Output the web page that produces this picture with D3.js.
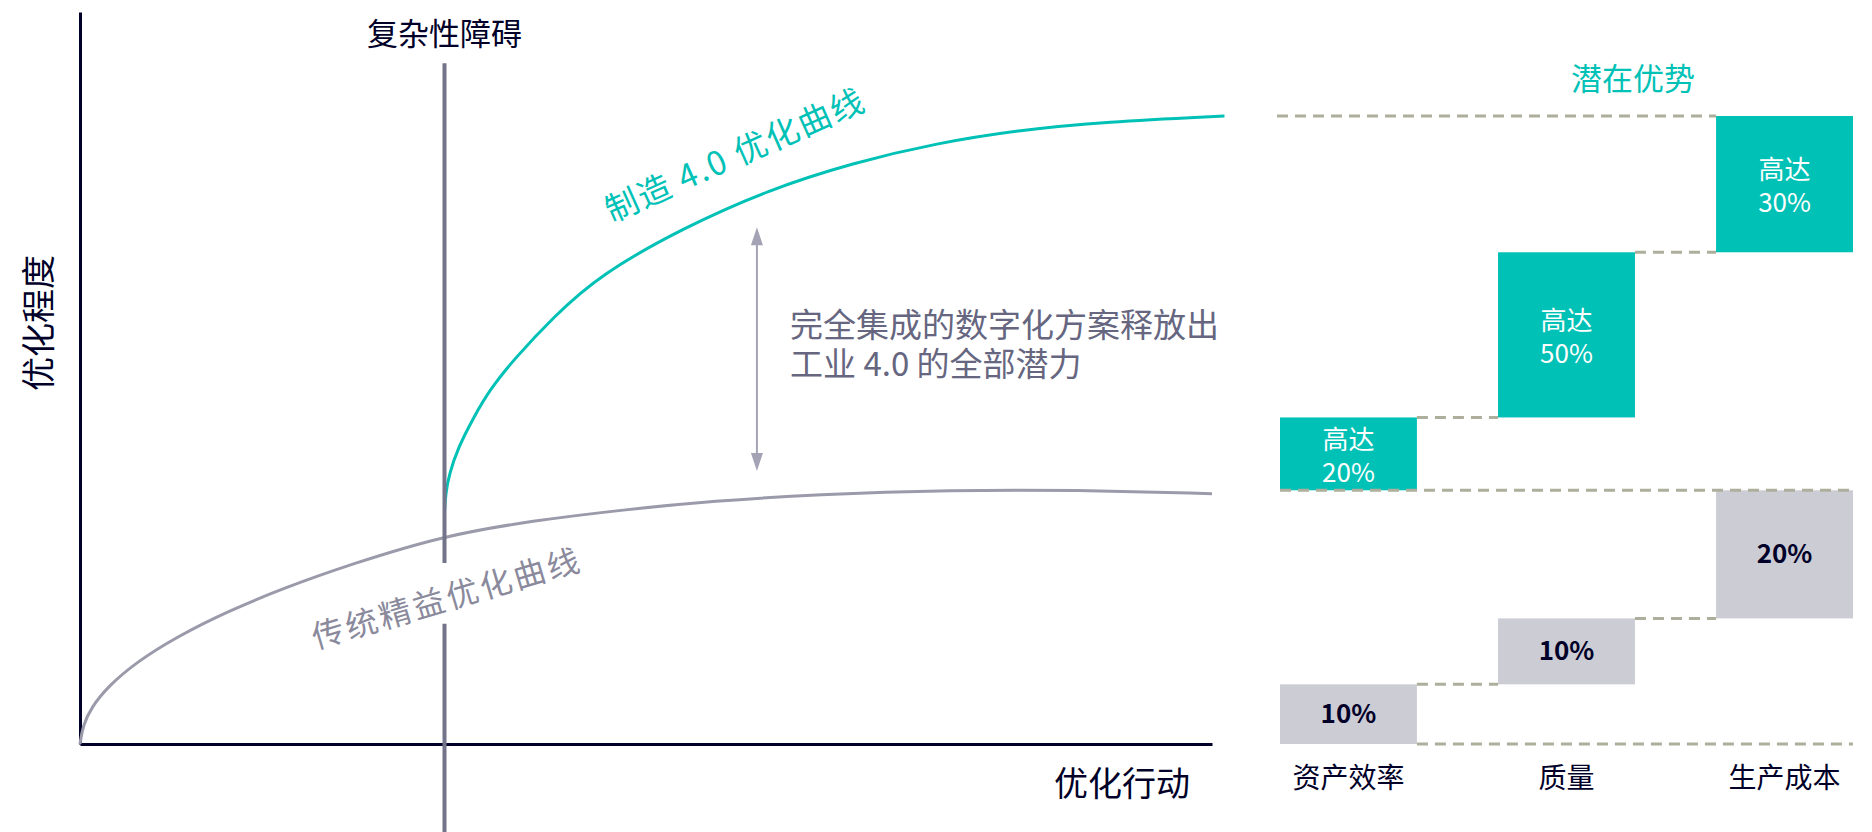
<!DOCTYPE html>
<html>
<head>
<meta charset="utf-8">
<script src="https://cdn.jsdelivr.net/npm/d3@7"></script>
<style>
  body { margin: 0; background: #fff; }
  text { font-family: "Noto Sans CJK SC", "Noto Sans", sans-serif; }
</style>
</head>
<body>
<script>
// ---- left chart: optimisation curves ----
const leanX = [0, 0.25, 1, 2.5, 5, 8.5, 13, 18, 24, 32.2, 40, 48, 56, 65, 77, 88, 100];
const leanY = [0, 2.5, 5.0, 7.9, 11.2, 14.6, 18.1, 21.3, 24.6, 28.5, 30.5, 32.0, 33.2, 34.1, 34.7, 34.7, 34.2];
const digitalX = [32.2, 32.3, 32.6, 33.4, 34.8, 36.2, 38.3, 41.8, 45.9, 53.4, 60.8, 68.3, 75.7, 83.1, 90.5, 101.1];
const digitalY = [31.7, 34.2, 36.8, 40.5, 44.7, 48.4, 52.5, 58.3, 64.1, 70.6, 75.7, 79.4, 82.1, 83.9, 85.0, 85.8];
const barrierX = 32.2;
const arrowX = 59.8, arrowSpan = [37.3, 70.6];
const descLines = ["完全集成的数字化方案释放出", "工业 4.0 的全部潜力"];

// ---- right chart: potential benefits ----
const categories = ["资产效率", "质量", "生产成本"];
const leanLabels = ["10%", "10%", "20%"];
const digitalLabels = ["20%", "50%", "30%"];
// visual heights of the blocks as drawn (the picture is not to scale)
const leanHeights = [9.5, 10.5, 20.4];
const digitalHeights = [11.6, 26.3, 21.7];

const W = 1872, H = 832;
const teal = "#00c1b6", navy = "#000028", greyLine = "#9a9aab",
      barrierCol = "#737389", dashCol = "#aeae9c", greyBar = "#ccccd4", textGrey = "#666680";

const svg = d3.select("body").append("svg")
  .attr("width", W).attr("height", H);

const x = d3.scaleLinear().domain([0, 100]).range([80, 1212]);
const y = d3.scaleLinear().domain([0, 100]).range([744, 12]);

// axes (no ticks)
svg.append("g")
  .attr("transform", `translate(0,${y(0)})`)
  .call(d3.axisBottom(x).ticks(0).tickSizeOuter(0))
  .select(".domain").attr("stroke", navy).attr("stroke-width", 3);
svg.append("g")
  .attr("transform", `translate(${x(0)},0)`)
  .call(d3.axisLeft(y).ticks(0).tickSizeOuter(0))
  .select(".domain").attr("stroke", navy).attr("stroke-width", 3);

const line = d3.line()
  .x(d => x(d[0])).y(d => y(d[1]))
  .curve(d3.curveBasis);

svg.append("path")
  .datum(leanX.map((v, i) => [v, leanY[i]]))
  .attr("d", line)
  .attr("fill", "none").attr("stroke", greyLine).attr("stroke-width", 3);

svg.append("path")
  .datum(digitalX.map((v, i) => [v, digitalY[i]]))
  .attr("d", line)
  .attr("fill", "none").attr("stroke", teal).attr("stroke-width", 3);

// curve labels
const leanLabelAt = [32.7, 18.4], leanAngle = -16.5, leanFs = 32;
svg.append("text")
  .attr("transform", `translate(${x(leanLabelAt[0])},${y(leanLabelAt[1])}) rotate(${leanAngle})`)
  .attr("text-anchor", "middle")
  .style("font-size", leanFs + "px")
  .style("letter-spacing", "3px")
  .attr("fill", "#8a8a9c")
  .text("传统精益优化曲线");

svg.append("text")
  .attr("transform", `translate(${x(58.3)},${y(79.0)}) rotate(-24)`)
  .attr("text-anchor", "middle")
  .style("font-size", "33px")
  .style("letter-spacing", "2px")
  .attr("fill", teal)
  .text("制造 4.0 优化曲线");

// complexity barrier, cut where the lean label crosses it
const bx = x(barrierX);
const lx = x(leanLabelAt[0]), ly = y(leanLabelAt[1]);
const baseAtBarrier = ly + (lx - bx) * Math.tan(-leanAngle * Math.PI / 180);
const gapTop = baseAtBarrier - 1.5 * leanFs, gapBottom = baseAtBarrier + 0.4 * leanFs;
svg.selectAll(".barrier")
  .data([[y(93), gapTop], [gapBottom, H]])
  .join("line")
  .attr("class", "barrier")
  .attr("x1", bx).attr("x2", bx)
  .attr("y1", d => d[0]).attr("y2", d => d[1])
  .attr("stroke", barrierCol).attr("stroke-width", 4);

svg.append("text")
  .attr("x", bx).attr("y", 45)
  .attr("text-anchor", "middle")
  .style("font-size", "31px")
  .attr("fill", navy)
  .text("复杂性障碍");

// axis titles
svg.append("text")
  .attr("transform", `translate(51,${y(57.5)}) rotate(-90)`)
  .attr("text-anchor", "middle")
  .style("font-size", "34px")
  .attr("fill", navy)
  .text("优化程度");
svg.append("text")
  .attr("x", 1190).attr("y", 796)
  .attr("text-anchor", "end")
  .style("font-size", "34px")
  .attr("fill", navy)
  .text("优化行动");

// double arrow between curves
const arrowCol = "#a3a3b5";
const ax = x(arrowX), aTop = y(arrowSpan[1]), aBot = y(arrowSpan[0]);
svg.append("line")
  .attr("x1", ax).attr("x2", ax).attr("y1", aTop + 10).attr("y2", aBot - 10)
  .attr("stroke", arrowCol).attr("stroke-width", 2);
svg.append("path")
  .attr("d", `M${ax},${aTop} l-6,18 l12,0 Z M${ax},${aBot} l-6,-18 l12,0 Z`)
  .attr("fill", arrowCol);

svg.selectAll(".desc")
  .data(descLines)
  .join("text")
  .attr("class", "desc")
  .attr("x", 790)
  .attr("y", (d, i) => 337 + i * 39)
  .style("font-size", "33px")
  .attr("fill", textGrey)
  .text(d => d);

// ---- right panel ----
const xb = d3.scaleBand().domain(categories).range([1280, 1853]).paddingInner(0.372).paddingOuter(0);
const yb = d3.scaleLinear().domain([0, 100]).range([744, 116]);
const bw = xb.bandwidth();

let level = 0;
const leanBars = categories.map((c, i) => {
  const b = { cat: c, y0: level, y1: level + leanHeights[i], label: leanLabels[i] };
  level = b.y1; return b;
});
const splitLevel = level;
const digitalBars = categories.map((c, i) => {
  const b = { cat: c, y0: level, y1: level + digitalHeights[i], label: digitalLabels[i] };
  level = b.y1; return b;
});
const topLevel = level;

svg.selectAll(".leanBar")
  .data(leanBars)
  .join("rect")
  .attr("class", "leanBar")
  .attr("x", d => xb(d.cat)).attr("width", bw)
  .attr("y", d => yb(d.y1)).attr("height", d => yb(d.y0) - yb(d.y1))
  .attr("fill", greyBar);

svg.selectAll(".digitalBar")
  .data(digitalBars)
  .join("rect")
  .attr("class", "digitalBar")
  .attr("x", d => xb(d.cat)).attr("width", bw)
  .attr("y", d => yb(d.y1)).attr("height", d => yb(d.y0) - yb(d.y1))
  .attr("fill", teal);

// dashed guide lines
const guides = [];
for (let i = 0; i < categories.length - 1; i++) {
  guides.push([xb(categories[i]) + bw, xb(categories[i + 1]), leanBars[i].y1]);
  guides.push([xb(categories[i]) + bw, xb(categories[i + 1]), digitalBars[i].y1]);
}
const lastCat = categories[categories.length - 1];
guides.push([xb(categories[0]) - 3, xb(lastCat), topLevel]);
guides.push([xb(categories[0]), xb(lastCat) + bw, splitLevel]);
guides.push([xb(categories[0]) + bw, xb(lastCat) + bw, 0]);

svg.selectAll(".guide")
  .data(guides)
  .join("line")
  .attr("class", "guide")
  .attr("x1", d => d[0]).attr("x2", d => d[1])
  .attr("y1", d => yb(d[2])).attr("y2", d => yb(d[2]))
  .attr("stroke", dashCol).attr("stroke-width", 3)
  .attr("stroke-dasharray", "11,7");

// labels in bars
svg.selectAll(".leanLabel")
  .data(leanBars)
  .join("text")
  .attr("class", "leanLabel")
  .attr("x", d => xb(d.cat) + bw / 2)
  .attr("y", d => (yb(d.y0) + yb(d.y1)) / 2 + 9)
  .attr("text-anchor", "middle")
  .style("font-size", "26px").style("font-weight", "bold")
  .attr("fill", navy)
  .text(d => d.label);

const barMid = d => xb(d.cat) + bw / 2;
const barCenterY = d => (yb(d.y0) + yb(d.y1)) / 2;
svg.selectAll(".digitalHead")
  .data(digitalBars)
  .join("text")
  .attr("class", "digitalHead")
  .attr("x", barMid).attr("y", d => barCenterY(d) - 5)
  .attr("text-anchor", "middle")
  .style("font-size", "26px")
  .attr("fill", "#fff")
  .text("高达");
svg.selectAll(".digitalValue")
  .data(digitalBars)
  .join("text")
  .attr("class", "digitalValue")
  .attr("x", barMid).attr("y", d => barCenterY(d) + 28)
  .attr("text-anchor", "middle")
  .style("font-size", "26px")
  .attr("fill", "#fff")
  .text(d => d.label);

svg.selectAll(".catLabel")
  .data(categories)
  .join("text")
  .attr("class", "catLabel")
  .attr("x", d => xb(d) + bw / 2)
  .attr("y", 788)
  .attr("text-anchor", "middle")
  .style("font-size", "28px")
  .attr("fill", navy)
  .text(d => d);

svg.append("text")
  .attr("x", 1633).attr("y", 90)
  .attr("text-anchor", "middle")
  .style("font-size", "31px")
  .attr("fill", teal)
  .text("潜在优势");
</script>
</body>
</html>
